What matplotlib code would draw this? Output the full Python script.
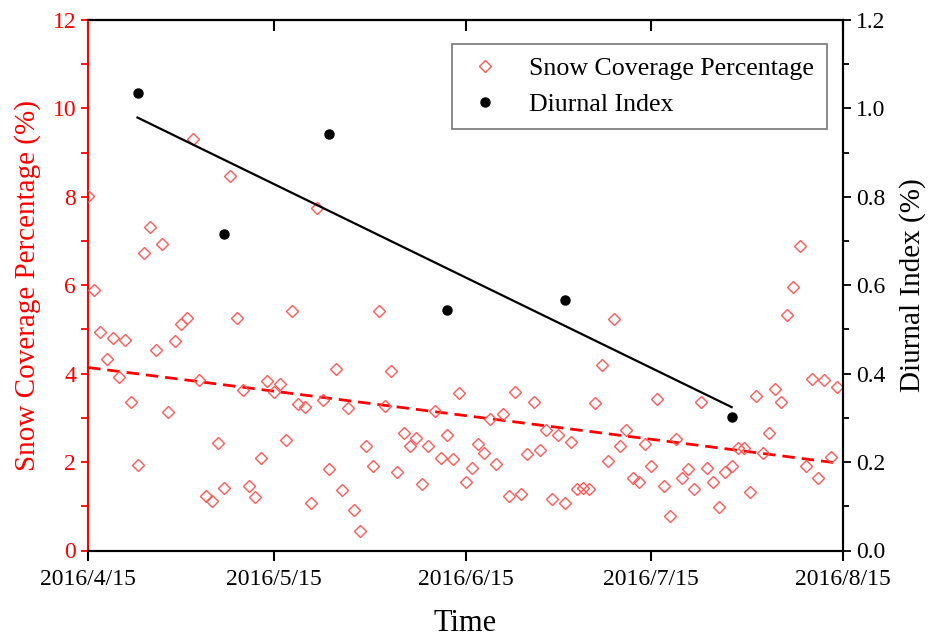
import matplotlib
matplotlib.use("Agg")
import matplotlib.pyplot as plt
import matplotlib.dates as mdates
import numpy as np
import pandas as pd
from matplotlib.ticker import MultipleLocator

plt.rcParams['font.family'] = ['Liberation Serif', 'DejaVu Serif']

# ---------------- data ----------------
snow_start = "2016-04-15"
snow_values = [
    8.03, 5.89, 4.94, 4.33, 4.80, 3.92, 4.77, 3.35, 1.93, 6.73,
    7.31, 4.54, 6.93, 3.14, 4.73, 5.12, 5.27, 9.30, 3.86, 1.23,
    1.12, 2.44, 1.41, 8.46, 5.27, 3.63, 1.46, 1.22, 2.09, 3.83,
    3.59, 3.77, 2.50, 5.41, 3.31, 3.24, 1.08, 7.74, 3.40, 1.84,
    4.10, 1.37, 3.22, 0.92, 0.43, 2.37, 1.91, 5.41, 3.27, 4.06,
    1.78, 2.65, 2.36, 2.55, 1.50, 2.36, 3.16, 2.10, 2.61, 2.06,
    3.56, 1.56, 1.87, 2.41, 2.20, 2.97, 1.96, 3.09, 1.24, 3.59,
    1.28, 2.18, 3.35, 2.27, 2.73, 1.16, 2.61, 1.07, 2.46, 1.39,
    1.41, 1.39, 3.33, 4.19, 2.02, 5.23, 2.36, 2.73, 1.63, 1.56,
    2.42, 1.92, 3.43, 1.47, 0.78, 2.52, 1.63, 1.84, 1.39, 3.37,
    1.87, 1.56, 0.98, 1.78, 1.91, 2.31, 2.31, 1.33, 3.50, 2.20,
    2.66, 3.65, 3.35, 5.33, 5.96, 6.88, 1.91, 3.88, 1.64, 3.85,
    2.11, 3.69,
]
diurnal_dates = ["2016-04-23", "2016-05-07", "2016-05-24",
                 "2016-06-12", "2016-07-01", "2016-07-28"]
diurnal_values = [1.035, 0.715, 0.942, 0.543, 0.566, 0.301]

xtick_dates = ["2016-04-15", "2016-05-15", "2016-06-15", "2016-07-15", "2016-08-15"]
xtick_labels = ["2016/4/15", "2016/5/15", "2016/6/15", "2016/7/15", "2016/8/15"]

# ---------------- figure ----------------
snow_dates = pd.date_range(snow_start, periods=len(snow_values), freq="D")
d_dates = pd.to_datetime(diurnal_dates)

fig = plt.figure(figsize=(9.36, 6.42), dpi=100)
ax = fig.add_axes([88/936, 1-550.5/642, (843-88)/936, (550.5-20)/642])
ax2 = ax.twinx()

red = '#ff0000'
mred = '#ff5a5a'

# snow scatter
ax.plot(snow_dates, snow_values, linestyle='none', marker='D', markersize=6,
        markerfacecolor='none', markeredgecolor=mred, markeredgewidth=1.0,
        label='Snow Coverage Percentage', zorder=3)
# snow trend (least squares)
sx = mdates.date2num(snow_dates)
p = np.polyfit(sx, snow_values, 1)
ax.plot(snow_dates, np.polyval(p, sx), color=red, linewidth=2.0,
        linestyle=(0, (4.5, 2.5)), zorder=2)

# diurnal
ax2.plot(d_dates, diurnal_values, linestyle='none', marker='o', markersize=6.5,
         color='black', label='Diurnal Index', zorder=3)
dx = mdates.date2num(d_dates)
q = np.polyfit(dx, diurnal_values, 1)
ax2.plot(d_dates, np.polyval(q, dx), color='black', linewidth=1.6, zorder=2)

# axes limits
ax.set_xlim(pd.Timestamp("2016-04-15"), pd.Timestamp("2016-08-15"))
ax.set_ylim(0, 12)
ax2.set_ylim(0, 1.2)

ax.set_xticks(pd.to_datetime(xtick_dates))
ax.set_xticklabels(xtick_labels)
ax.yaxis.set_major_locator(MultipleLocator(2))
ax.yaxis.set_minor_locator(MultipleLocator(1))
ax2.yaxis.set_major_locator(MultipleLocator(0.2))
ax2.yaxis.set_minor_locator(MultipleLocator(0.1))
ax2.yaxis.set_major_formatter(matplotlib.ticker.FormatStrFormatter('%.1f'))

# spines
for s in ['top', 'bottom', 'right']:
    ax.spines[s].set_color('black')
    ax.spines[s].set_linewidth(1.5)
ax.spines['left'].set_color(red)
ax.spines['left'].set_linewidth(1.5)
ax2.spines['left'].set_visible(False)
ax2.spines['right'].set_linewidth(1.5)
ax2.spines['top'].set_linewidth(1.5)
ax2.spines['bottom'].set_linewidth(1.5)

ax.tick_params(axis='x', which='major', direction='out', length=7, width=1.5,
               labelsize=17, pad=6, top=False)
ax.tick_params(axis='y', which='both', direction='out', colors=red,
               labelsize=17, width=1.3)
ax.tick_params(axis='y', which='major', length=5)
ax.tick_params(axis='y', which='minor', length=5)
ax2.tick_params(axis='y', which='major', direction='out', length=6, width=1.3,
                labelsize=17, colors='black')
ax2.tick_params(axis='y', which='minor', direction='out', length=4, width=1.3)

ax.set_xlabel('Time', fontsize=22, labelpad=14)
ax.set_ylabel('Snow Coverage Percentage (%)', fontsize=21, color=red, labelpad=8)
ax2.set_ylabel('Diurnal Index (%)', fontsize=21, color='black', labelpad=10)

# top ticks inward
sec = ax.secondary_xaxis('top')
sec.set_xticks(pd.to_datetime(xtick_dates))
sec.tick_params(axis='x', direction='in', length=8, width=1.5, labeltop=False)
sec.spines['top'].set_linewidth(1.5)

# legend
h1, l1 = ax.get_legend_handles_labels()
h2, l2 = ax2.get_legend_handles_labels()
leg = ax2.legend(h1 + h2, l1 + l2, loc='upper right',
                 bbox_to_anchor=((827-88)/755, (550.5-44)/530.5),
                 fontsize=18.6, frameon=True, fancybox=False, edgecolor='#555555',
                 borderpad=0.5, labelspacing=0.5, handletextpad=0.9,
                 handlelength=1.6, borderaxespad=0)
leg.get_frame().set_linewidth(1.2)

fig.savefig('out.png', dpi=100)
